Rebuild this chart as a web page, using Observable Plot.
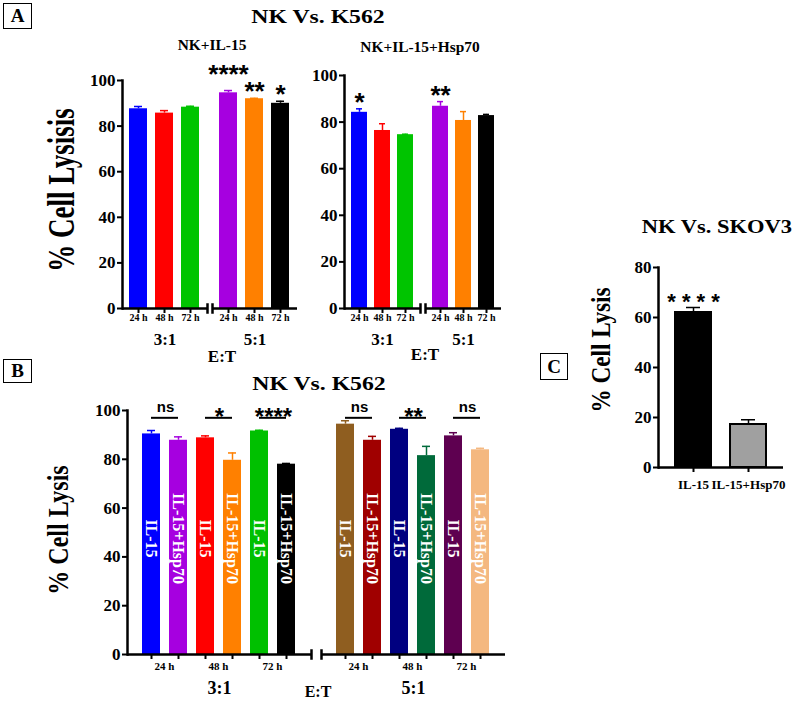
<!DOCTYPE html>
<html><head><meta charset="utf-8">
<script src="https://cdn.jsdelivr.net/npm/d3@7"></script>
<script src="https://cdn.jsdelivr.net/npm/@observablehq/plot@0.6"></script>
<style>
body{margin:0;background:#fff;}
#page{position:relative;width:797px;height:702px;overflow:hidden;background:#fff;font-family:"Liberation Serif",serif;font-weight:bold;color:#000;}
.t{position:absolute;white-space:nowrap;line-height:1;transform-origin:center center;}
.box{position:absolute;border:1.5px solid #000;display:flex;align-items:center;justify-content:center;font-size:19px;box-sizing:border-box;}
</style></head>
<body><div id="page"></div>
<script>
// ---------- data ----------
const ratios = ["3:1", "5:1"];
const times = ["24 h", "48 h", "72 h"];
const treatments = ["IL-15", "IL-15+Hsp70"];

// Panel A (order: 3:1 24h,48h,72h then 5:1 24h,48h,72h)
const aIl15Mean = [87.6, 85.7, 88.3, 94.6, 92.0, 90.0];
const aIl15Err  = [1.0, 1.1, 0.4, 1.0, 0.2, 0.9];
const aIl15Sig  = ["", "", "", "****", "**", "*"];
const aHspMean  = [84.2, 76.4, 74.6, 86.8, 80.7, 82.8];
const aHspErr   = [1.5, 2.9, 0.2, 2.0, 3.8, 0.5];
const aHspSig   = ["*", "", "", "**", "", ""];
const aColors   = ["#0000ff", "#ff0000", "#00c400", "#a600e0", "#ff8000", "#000000"];

// Panel B (order: 3:1 24h,48h,72h then 5:1 24h,48h,72h)
const bIl15Mean = [90.4, 88.8, 91.6, 94.4, 92.3, 89.6];
const bIl15Err  = [1.4, 0.8, 0.3, 1.4, 0.4, 1.3];
const bHspMean  = [87.8, 79.6, 78.0, 87.8, 81.5, 83.9];
const bHspErr   = [1.4, 3.0, 0.3, 1.6, 3.8, 0.6];
const bSig      = ["ns", "*", "****", "ns", "**", "ns"];
const bSigLevel = 97;
const bIl15Colors = ["#0000ff", "#ff0000", "#00c000", "#8f5e20", "#000080", "#5e0050"];
const bHspColors  = ["#a600e0", "#ff8000", "#000000", "#a00000", "#006a3a", "#f4b880"];

// Panel C
const cLabels = ["IL-15", "IL-15+Hsp70"];
const cMean   = [62.0, 17.2];
const cErr    = [2.0, 1.9];
const cSig    = ["* * * *", ""];
const cColors = ["#000000", "#a0a0a0"];

const yTicksA = [0, 20, 40, 60, 80, 100];
const yTicksC = [0, 20, 40, 60, 80];

// ---------- layout ----------
const W = 797, H = 702;
const SERIF = "Liberation Serif";
const SANS = "Liberation Sans";
const page = document.getElementById("page");
const svgStyle = {position: "absolute", left: "0px", top: "0px", background: "transparent", overflow: "visible"};

function rowsA(means, errs, sigs) {
  return means.map((m, i) => ({
    ratio: ratios[Math.floor(i / 3)], time: times[i % 3],
    mean: m, hi: m + errs[i], sig: sigs[i], color: aColors[i]
  }));
}

// small vertical marks at the ends of the broken x axis
function breakMarks(frameH) {
  return [
    Plot.frame({anchor: "right", facetAnchor: "left", strokeWidth: 2.5, insetTop: frameH - 4, insetBottom: -4}),
    Plot.frame({anchor: "left", facetAnchor: "right", strokeWidth: 2.5, insetTop: frameH - 4, insetBottom: -4})
  ];
}

function panelA(rows, f) {
  const big = d => d.sig.length >= 4;
  return Plot.plot({
    width: W, height: H,
    marginLeft: f.left, marginRight: W - f.right, marginTop: f.top, marginBottom: H - f.bottom,
    style: svgStyle,
    fx: {domain: ratios, paddingInner: 0.06, paddingOuter: 0, axis: null},
    x: {domain: times, paddingInner: 0.3, paddingOuter: 0.25, axis: null},
    y: {domain: [0, 100], axis: null},
    color: {type: "identity"},
    marks: [
      Plot.barY(rows, {fx: "ratio", x: "time", y: "mean", fill: "color"}),
      Plot.ruleX(rows, {fx: "ratio", x: "time", y1: "mean", y2: "hi", stroke: "color", strokeWidth: 1.5}),
      Plot.tickY(rows, {fx: "ratio", x: "time", y: "hi", stroke: "color", strokeWidth: 1.5, insetLeft: 5, insetRight: 5}),
      Plot.ruleY([0], {strokeWidth: 2.5}),
      Plot.frame({anchor: "left", facetAnchor: "left", strokeWidth: 2.5}),
      ...breakMarks(f.bottom - f.top),
      Plot.axisY({ticks: yTicksA, tickSize: 5, tickPadding: 2, strokeWidth: 2, fontSize: 17, fontWeight: "bold", fontFamily: SERIF, label: null}),
      Plot.axisX({tickSize: 5, tickPadding: 0, strokeWidth: 2, fontSize: 10, fontWeight: "bold", fontFamily: SERIF, label: null}),
      Plot.axisFx({anchor: "bottom", tickSize: 0, tickPadding: 24, fontSize: 17, fontWeight: "bold", fontFamily: SERIF, label: null}),
      Plot.text(rows.filter(d => !big(d)), {fx: "ratio", x: "time", y: "hi", text: "sig", lineAnchor: "bottom", dy: 2, fontSize: 26, fontWeight: "bold", fontFamily: SANS}),
      Plot.text(rows.filter(big), {fx: "ratio", x: "time", y: "hi", text: "sig", lineAnchor: "bottom", dy: -8, fontSize: 26, fontWeight: "bold", fontFamily: SANS})
    ]
  });
}

page.appendChild(panelA(rowsA(aIl15Mean, aIl15Err, aIl15Sig), {left: 122, right: 297, top: 80, bottom: 308}));
page.appendChild(panelA(rowsA(aHspMean, aHspErr, aHspSig), {left: 343, right: 502, top: 75, bottom: 308}));

// Panel B
const rowsB = [];
const pairsB = [];
for (let i = 0; i < 6; i++) {
  const ratio = ratios[Math.floor(i / 3)], time = times[i % 3];
  rowsB.push({ratio, time, treat: treatments[0], key: time + " " + treatments[0], mean: bIl15Mean[i], hi: bIl15Mean[i] + bIl15Err[i], color: bIl15Colors[i]});
  rowsB.push({ratio, time, treat: treatments[1], key: time + " " + treatments[1], mean: bHspMean[i], hi: bHspMean[i] + bHspErr[i], color: bHspColors[i]});
  pairsB.push({ratio, time, k1: time + " " + treatments[0], k2: time + " " + treatments[1], sig: bSig[i], level: bSigLevel});
}
const keysB = times.flatMap(t => treatments.map(tr => t + " " + tr));

page.appendChild(Plot.plot({
  width: W, height: H,
  marginLeft: 126, marginRight: W - 505, marginTop: 410, marginBottom: H - 654,
  style: svgStyle,
  fx: {domain: ratios, paddingInner: 0.052, paddingOuter: 0, axis: null},
  x: {domain: keysB, paddingInner: 0.32, paddingOuter: 0.45, axis: null},
  y: {domain: [0, 100], axis: null},
  color: {type: "identity"},
  marks: [
    Plot.barY(rowsB, {fx: "ratio", x: "key", y: "mean", fill: "color"}),
    Plot.ruleX(rowsB, {fx: "ratio", x: "key", y1: "mean", y2: "hi", stroke: "color", strokeWidth: 1.5}),
    Plot.tickY(rowsB, {fx: "ratio", x: "key", y: "hi", stroke: "color", strokeWidth: 1.5, insetLeft: 5, insetRight: 5}),
    Plot.text(rowsB, {fx: "ratio", x: "key", text: "treat", rotate: 90, frameAnchor: "middle", dy: 6, fill: "white", fontSize: 16, fontWeight: "bold", fontFamily: SERIF}),
    Plot.ruleY([0], {strokeWidth: 2.5}),
    Plot.frame({anchor: "left", facetAnchor: "left", strokeWidth: 2.5}),
    ...breakMarks(654 - 410),
    Plot.axisY({ticks: yTicksA, tickSize: 5, tickPadding: 2, strokeWidth: 2, fontSize: 17, fontWeight: "bold", fontFamily: SERIF, label: null}),
    Plot.axisX({tickSize: 5, tickFormat: () => "", strokeWidth: 2, label: null}),
    Plot.text(pairsB, {fx: "ratio", x: "k2", dx: -14, text: "time", frameAnchor: "bottom", lineAnchor: "top", dy: 8, fontSize: 11, fontWeight: "bold", fontFamily: SERIF}),
    Plot.axisFx({anchor: "bottom", tickSize: 0, tickPadding: 27, fontSize: 18, fontWeight: "bold", fontFamily: SERIF, label: null}),
    Plot.ruleY(pairsB, {fx: "ratio", x1: "k1", x2: "k2", y: "level", insetLeft: 9, insetRight: 9, strokeWidth: 2}),
    Plot.text(pairsB.filter(d => d.sig === "ns"), {fx: "ratio", x: "k1", dx: 14, y: "level", text: "sig", lineAnchor: "bottom", dy: -6, fontSize: 15, fontFamily: SANS}),
    Plot.text(pairsB.filter(d => d.sig !== "ns"), {fx: "ratio", x: "k1", dx: 14, y: "level", text: "sig", lineAnchor: "bottom", dy: 7, fontSize: 24, fontWeight: "bold", fontFamily: SANS})
  ]
}));

// Panel C
const rowsC = cLabels.map((l, i) => ({label: l, mean: cMean[i], hi: cMean[i] + cErr[i], sig: cSig[i], color: cColors[i]}));
page.appendChild(Plot.plot({
  width: W, height: H,
  marginLeft: 658, marginRight: W - 783, marginTop: 267, marginBottom: H - 467,
  style: svgStyle,
  x: {domain: cLabels, paddingInner: 0.34, paddingOuter: 0.29, axis: null},
  y: {domain: [0, 80], axis: null},
  color: {type: "identity"},
  marks: [
    Plot.barY(rowsC, {x: "label", y: "mean", fill: "color", stroke: "black", strokeWidth: 2}),
    Plot.ruleX(rowsC, {x: "label", y1: "mean", y2: "hi", stroke: "black", strokeWidth: 1.5}),
    Plot.tickY(rowsC, {x: "label", y: "hi", stroke: "black", strokeWidth: 1.5, insetLeft: 11, insetRight: 11}),
    Plot.ruleY([0], {strokeWidth: 2.5}),
    Plot.frame({anchor: "left", strokeWidth: 2.5}),
    Plot.axisY({ticks: yTicksC, tickSize: 5, tickPadding: 2, strokeWidth: 2, fontSize: 17, fontWeight: "bold", fontFamily: SERIF, label: null}),
    Plot.axisX({tickSize: 5, tickPadding: 7, strokeWidth: 2, fontSize: 13, fontWeight: "bold", fontFamily: SERIF, label: null}),
    Plot.text(rowsC, {x: "label", y: "hi", text: "sig", lineAnchor: "bottom", dy: 1, fontSize: 22, fontWeight: "bold", fontFamily: SANS})
  ]
}));

// ---------- HTML text (titles, labels, panel letters) ----------
function txt(s, cx, cy, size, transform) {
  const d = document.createElement("div");
  d.className = "t";
  d.textContent = s;
  d.style.fontSize = size + "px";
  d.style.left = cx + "px";
  d.style.top = cy + "px";
  d.style.transform = "translate(-50%,-50%) " + (transform || "");
  page.appendChild(d);
}
function box(s, x, y, w, h) {
  const d = document.createElement("div");
  d.className = "box";
  d.textContent = s;
  Object.assign(d.style, {left: x + "px", top: y + "px", width: w + "px", height: h + "px"});
  page.appendChild(d);
}
box("A", 3, 3, 29, 26);
box("B", 3, 359, 29, 24);
box("C", 540, 353, 28, 27);

txt("NK Vs. K562", 318, 16, 19, "scaleX(1.25)");
txt("NK+IL-15", 212, 46, 14, "scaleX(1.1)");
txt("NK+IL-15+Hsp70", 420, 48, 14, "scaleX(1.1)");
txt("% Cell Lysisis", 61, 190, 37, "rotate(-90deg) scaleX(0.73)");
txt("E:T", 222, 356, 17);
txt("E:T", 425, 354, 17);

txt("NK Vs. K562", 319, 383, 19, "scaleX(1.25)");
txt("% Cell Lysis", 58, 530, 30, "rotate(-90deg) scaleX(0.8)");
txt("E:T", 318, 692, 16);

txt("NK Vs. SKOV3", 717, 227, 18, "scaleX(1.25)");
txt("% Cell Lysis", 601, 350, 27, "rotate(-90deg) scaleX(0.86)");
</script>
</body></html>
